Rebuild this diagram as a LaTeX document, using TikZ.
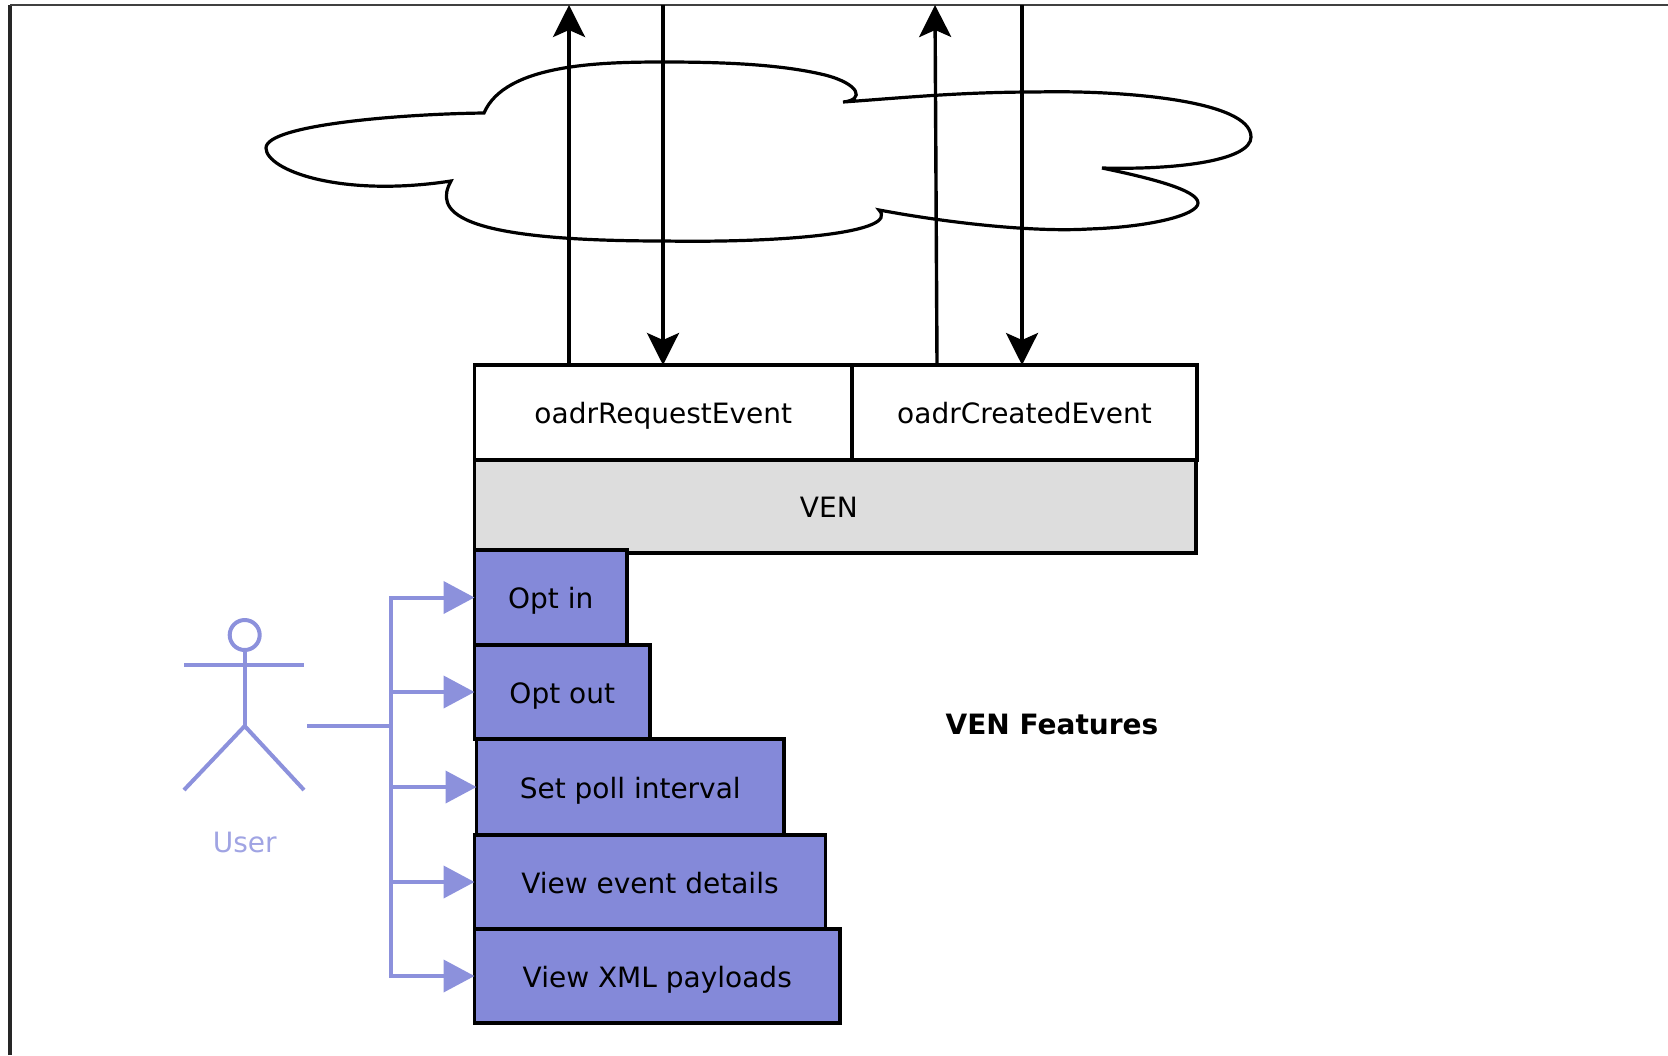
\documentclass[tikz,border=0pt]{standalone}
\usepackage{fontspec}
\setmainfont{DejaVu Sans}
\usetikzlibrary{arrows.meta}
\definecolor{featureblue}{HTML}{8489D9}
\definecolor{userblue}{HTML}{8C91DC}
\definecolor{userlabel}{HTML}{A0A4E3}
\definecolor{vengrey}{HTML}{DDDDDD}
\tikzset{
    plainbox/.style={draw=black, line width=1.8pt, inner sep=0pt, outer sep=0pt, anchor=north west, text height=14pt, text depth=2.6pt, font=\fontsize{14}{17}\selectfont},
    venbox/.style={plainbox, fill=vengrey},
    featurebox/.style={plainbox, fill=featureblue},
    msgflow/.style={draw=black, line width=1.7pt, -{Stealth[length=16pt, width=16pt, inset=3.5pt]}},
    userflow/.style={draw=userblue, line width=2pt, -{Triangle[length=15.5pt, width=16pt]}},
    stickline/.style={draw=userblue, line width=2pt},
}
\begin{document}
\begin{tikzpicture}[x=0.5pt, y=-0.5pt]
    \def\boxat#1#2#3#4#5#6#7{%
        \node[#1, minimum width=#5*0.5pt, minimum height=#6*0.5pt] (#2) at (#3,#4) {#7};
    }

    \useasboundingbox (0,0) rectangle (1668,1055);

    % page frame
    \draw[line width=1.7pt, draw=black!85] (10,1055) -- (10,5);
    \draw[line width=1.1pt, draw=black!75] (10,5) -- (1668,5);

    % cloud
    \draw[line width=1.6pt] (484,113) .. controls (400,114) and (266,125) .. (266,148)
        .. controls (266,170) and (340,198) .. (451,181)
        .. controls (435,210) and (450,241) .. (664,241)
        .. controls (790,243) and (900,232) .. (879,210)
        .. controls (960,225) and (1040,232) .. (1089,229)
        .. controls (1150,227) and (1198,215) .. (1198,203)
        .. controls (1198,190) and (1150,178) .. (1102,168)
        .. controls (1180,170) and (1251,160) .. (1251,137)
        .. controls (1251,100) and (1120,90) .. (1036,92)
        .. controls (960,92) and (900,98) .. (843,102)
        .. controls (865,100) and (860,84) .. (825,75)
        .. controls (780,64) and (720,62) .. (664,62)
        .. controls (600,62) and (505,64) .. (484,113) -- cycle;

    % message boxes
    \boxat{plainbox}{request}{474.5}{365}{377.5}{95}{oadrRequestEvent}
    \boxat{plainbox}{created}{852}{365}{345}{95}{oadrCreatedEvent}
    \boxat{venbox}{ven}{474.5}{460}{721.5}{93}{VEN\hspace*{6.4pt}}

    % features
    \boxat{featurebox}{optin}{474.5}{550}{152.5}{95}{Opt in}
    \boxat{featurebox}{optout}{474.5}{645}{175.5}{94}{Opt out}
    \boxat{featurebox}{setpoll}{476.5}{739}{307.5}{96}{Set poll interval}
    \boxat{featurebox}{viewevent}{474.5}{835}{351}{94}{View event details}
    \boxat{featurebox}{viewxml}{474.5}{929}{365.5}{94}{View XML payloads}

    % free ends of the message arrows
    \coordinate (up1) at (569,5);
    \coordinate (down1) at (663,5);
    \coordinate (up2) at (935,5);
    \coordinate (down2) at (1022,5);
    \coordinate (upbase2) at (937,365);

    \draw[msgflow] (request.north west -| up1) -- (up1);
    \draw[msgflow] (down1) -- (request.north west -| down1);
    \draw[msgflow] (upbase2) -- (up2);
    \draw[msgflow] (down2) -- (created.north west -| down2);

    % user
    \node[circle, stickline, minimum size=15pt, inner sep=0pt, outer sep=0pt] (head) at (244.7,635) {};
    \coordinate (hip) at (244.7,726);
    \coordinate (hand) at (307,726);
    \coordinate (trunk) at (391,726);
    \draw[stickline] (head.south) -- (hip);
    \draw[stickline] (184,665) -- (304,665);
    \draw[stickline] (184,790) -- (hip) -- (304,790);
    \node[text=userlabel, font=\fontsize{14}{17}\selectfont] (user) at (244.7,842) {User};

    % user to features
    \draw[stickline] (hand) -- (trunk);
    \foreach \name in {optin, optout, setpoll, viewevent, viewxml}{
        \draw[userflow] (trunk) |- (\name.west);
    }

    \node[font=\fontsize{14}{17}\selectfont\bfseries] (caption) at (1052,724) {VEN Features};

\end{tikzpicture}
\end{document}
